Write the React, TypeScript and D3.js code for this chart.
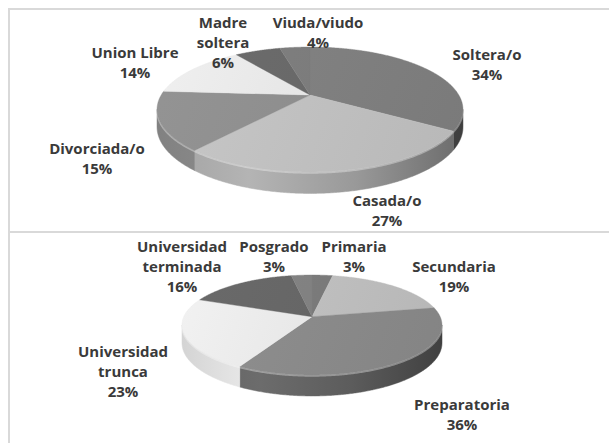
import React from "react";
import * as d3 from "d3";

// ---- Data ----
const maritalCategories = ["Soltera/o", "Casada/o", "Divorciada/o", "Union Libre", "Madre\nsoltera", "Viuda/viudo"];
const maritalValues = [34, 27, 15, 14, 6, 4];

const educationCategories = ["Primaria", "Secundaria", "Preparatoria", "Universidad\ntrunca", "Universidad\nterminada", "Posgrado"];
const educationValues = [3, 19, 36, 23, 16, 3];

// ---- Styles / layout ----
const W = 609;
const H = 443;

const maritalTopColors = ["#7f7f7f", "#c0c0c0", "#8e8e8e", "#e6e6e6", "#686868", "#7c7c7c"];
const maritalSideColors = ["#585858", "#999999", "#7a7a7a", "#c8c8c8", "#505050", "#606060"];
const educationTopColors = ["#7a7a7a", "#bebebe", "#8a8a8a", "#e8e8e8", "#666666", "#808080"];
const educationSideColors = ["#5a5a5a", "#9a9a9a", "#5c5c5c", "#c9c9c9", "#4e4e4e", "#606060"];

// label anchor: centre x, first baseline y
const maritalLabelAnchors: [number, number][] = [[487, 60], [387, 206], [97, 154], [135, 58], [223, 28], [318, 28]];
const educationLabelAnchors: [number, number][] = [[354, 252], [454, 272], [462, 410], [123, 357], [182, 252], [274, 252]];

type Geom = { id: string; cx: number; cy: number; A: number; B: number; k: number; h: number };

const topGeom: Geom = { id: "m", cx: 310, cy: 95, A: 148.8, B: 59.1, k: 0.232, h: 16.5 };
const botGeom: Geom = { id: "e", cx: 312, cy: 316.7, A: 128.2, B: 48.6, k: 0.166, h: 17.5 };

function proj(g: Geom, a: number, r = 1): [number, number, number] {
  const X = Math.sin(a) * r;
  const Z = -Math.cos(a) * r;
  const s = 1 / (1 - g.k * Z);
  return [g.cx + g.A * X * s, g.cy + g.B * Z * s, s];
}

function arcPoints(g: Geom, a0: number, a1: number, dy = 0): [number, number][] {
  const n = Math.max(2, Math.ceil((a1 - a0) / (Math.PI / 360)));
  const pts: [number, number][] = [];
  for (let i = 0; i <= n; i++) {
    const a = a0 + ((a1 - a0) * i) / n;
    const [x, y, s] = proj(g, a);
    pts.push([x, y + dy * s]);
  }
  return pts;
}

function Pie3D({ g, categories, values, topColors, sideColors, anchors }: {
  g: Geom; categories: string[]; values: number[]; topColors: string[]; sideColors: string[]; anchors: [number, number][];
}) {
  const arcs = d3.pie<number>().sort(null).value((d) => d).startAngle(0).endAngle(2 * Math.PI)(values);
  const line = d3.line();
  const aR = Math.acos(-g.k);
  const aL = 2 * Math.PI - aR;
  const xMin = g.cx - g.A / Math.sqrt(1 - g.k * g.k);
  const xMax = g.cx + g.A / Math.sqrt(1 - g.k * g.k);

  const sides = arcs.map((a, i) => {
    const s0 = Math.max(a.startAngle, aR);
    const s1 = Math.min(a.endAngle, aL);
    if (s1 <= s0) return null;
    const top = arcPoints(g, s0, s1, 0);
    const bot = arcPoints(g, s0, s1, g.h).reverse();
    const d = line([...top, ...bot])! + "Z";
    return <path key={"s" + i} d={d} fill={`url(#side-${g.id}-${i})`} stroke={`url(#side-${g.id}-${i})`} strokeWidth={0.5} />;
  });

  const tops = arcs.map((a, i) => {
    const pts = [[g.cx, g.cy] as [number, number], ...arcPoints(g, a.startAngle, a.endAngle, 0)];
    const d = line(pts)! + "Z";
    return <path key={"t" + i} d={d} fill={`url(#top-${g.id}-${i})`} stroke={topColors[i]} strokeWidth={0.4} />;
  });

  const rim = line(arcPoints(g, aR, aL, 0.6))!;

  return (
    <g>
      <defs>
        {arcs.map((a, i) => {
          const c = d3.color(sideColors[i])!;
          return (
            <linearGradient key={"gs" + i} id={`side-${g.id}-${i}`} gradientUnits="userSpaceOnUse" x1={xMin} x2={xMax} y1={0} y2={0}>
              <stop offset="0%" stopColor={c.brighter(0.15).formatHex()} />
              <stop offset="30%" stopColor={c.brighter(0.45).formatHex()} />
              <stop offset="65%" stopColor={c.formatHex()} />
              <stop offset="100%" stopColor={c.darker(1.0).formatHex()} />
            </linearGradient>
          );
        })}
        {arcs.map((a, i) => {
          const c = d3.color(topColors[i])!;
          return (
            <linearGradient key={"gt" + i} id={`top-${g.id}-${i}`} gradientUnits="userSpaceOnUse" x1={xMin} x2={xMax} y1={g.cy - g.B} y2={g.cy + g.B}>
              <stop offset="0%" stopColor={c.brighter(0.12).formatHex()} />
              <stop offset="100%" stopColor={c.darker(0.12).formatHex()} />
            </linearGradient>
          );
        })}
      </defs>
      {sides}
      <path d={rim} fill="none" stroke="#ffffff" strokeOpacity={0.35} strokeWidth={2} />
      {tops}
      {arcs.map((a, i) => {
        const [x, y] = anchors[i];
        const lines = [...categories[i].split("\n"), `${values[i]}%`];
        return (
          <text key={"l" + i} x={x} y={y} textAnchor="middle" fontFamily="'Open Sans', sans-serif" fontWeight={700} fontSize={15} fill="#3a3a3a">
            {lines.map((t, j) => (
              <tspan key={j} x={x} dy={j === 0 ? 0 : 20}>{t}</tspan>
            ))}
          </text>
        );
      })}
    </g>
  );
}

export default function App() {
  return (
    <svg width={W} height={H} style={{ position: "absolute", left: 0, top: 0, display: "block", background: "#ffffff" }}>
      <rect x={0} y={0} width={W} height={H} fill="#ffffff" />
      <line x1={9} y1={9} x2={9} y2={H} stroke="#d9d9d9" strokeWidth={2} />
      <line x1={8} y1={9} x2={W} y2={9} stroke="#d9d9d9" strokeWidth={2} />
      <line x1={8} y1={232} x2={W} y2={232} stroke="#d9d9d9" strokeWidth={2} />
      <Pie3D g={topGeom} categories={maritalCategories} values={maritalValues} topColors={maritalTopColors} sideColors={maritalSideColors} anchors={maritalLabelAnchors} />
      <Pie3D g={botGeom} categories={educationCategories} values={educationValues} topColors={educationTopColors} sideColors={educationSideColors} anchors={educationLabelAnchors} />
    </svg>
  );
}
